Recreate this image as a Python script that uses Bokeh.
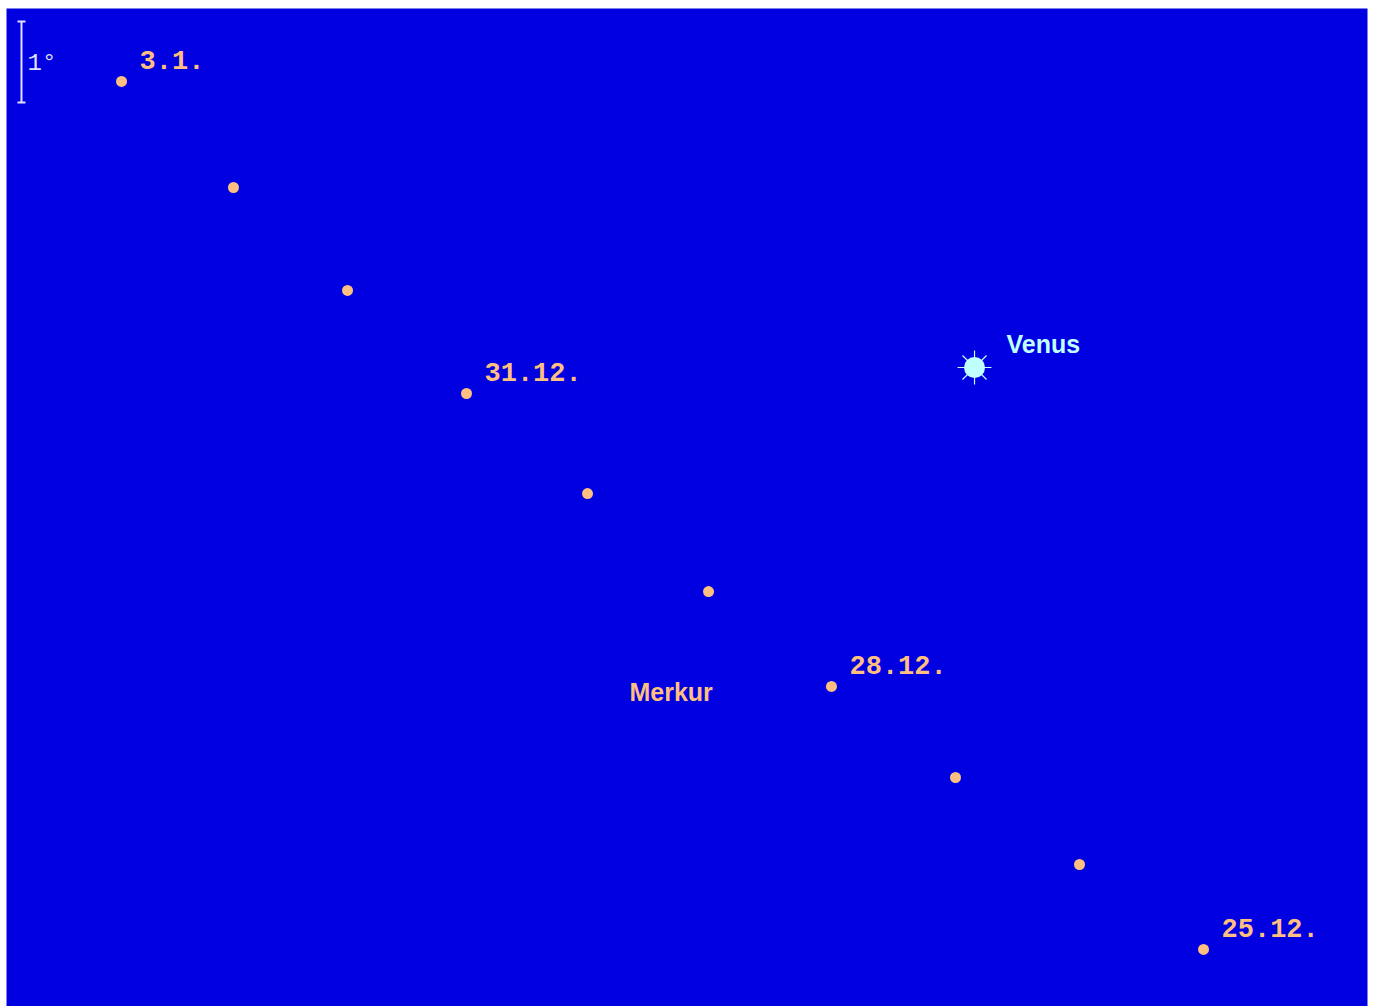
from bokeh.plotting import figure
from bokeh.models import Range1d, ColumnDataSource
from bokeh.core.properties import value
from bokeh.embed import file_html
from bokeh.resources import INLINE

# Mercury positions (degrees in the field: x to the right, y upward)
dates = ["25.12.", "26.12.", "27.12.", "28.12.", "29.12.", "30.12.", "31.12.", "1.1.", "2.1.", "3.1."]
merc_x = [14.778, 13.247, 11.716, 10.185, 8.667, 7.173, 5.679, 4.210, 2.802, 1.420]
merc_y = [0.704, 1.753, 2.827, 3.951, 5.123, 6.333, 7.568, 8.840, 10.111, 11.420]
labels = ["25.12.", "", "", "28.12.", "", "", "31.12.", "", "", "3.1."]

venus_x = [11.951]
venus_y = [7.889]

field_w = 1361 / 81.0
field_h = 998 / 81.0
scale_deg = 1.0

BG = "#0000e0"
ORANGE = "#ffbf80"
VENUS = "#c0ffff"
WHITE = "#e0e0ff"

p = figure(width=1373, height=1006, output_backend="svg", toolbar_location=None,
           x_range=Range1d(0, field_w), y_range=Range1d(0, field_h),
           min_border=0, min_border_left=6, min_border_top=8, min_border_right=6,
           min_border_bottom=0,
           background_fill_color=BG, border_fill_color="white",
           outline_line_color=None)
p.axis.visible = False
p.grid.visible = False

src = ColumnDataSource(dict(x=merc_x, y=merc_y, label=labels, date=dates))
p.scatter("x", "y", source=src, size=11, marker="circle", fill_color=ORANGE, line_color=None)
p.text("x", "y", text="label", source=src, x_offset=18, y_offset=-21,
       text_font=value("Liberation Mono"), text_font_style="bold",
       text_font_size="27px", text_color=ORANGE, text_baseline="alphabetic")

# Venus
vsrc = ColumnDataSource(dict(x=venus_x, y=venus_y, label=["Venus"]))
p.scatter("x", "y", source=vsrc, marker="asterisk", size=34, line_color=VENUS, line_width=1.2)
p.scatter("x", "y", source=vsrc, marker="circle", size=21, fill_color=VENUS, line_color=None)
p.text("x", "y", text="label", source=vsrc, x_offset=32, y_offset=-23,
       text_font=value("Liberation Sans"), text_font_style="bold", text_font_size="25px",
       text_color=VENUS, text_baseline="alphabetic")

# Merkur name
p.text(x=[7.691], y=[3.778], text=["Merkur"], y_offset=-8, text_font=value("Liberation Sans"),
       text_font_style="bold", text_font_size="25px", text_color=ORANGE,
       text_baseline="alphabetic")

# 1 degree scale bar
sx = 0.185
sy0 = field_h - (102 - 8) / 81.0
sy1 = sy0 + scale_deg
p.segment(x0=[sx], y0=[sy0], x1=[sx], y1=[sy1], line_color=WHITE, line_width=2)
p.scatter(x=[sx, sx], y=[sy0, sy1], marker="dash", size=8, line_color=WHITE, line_width=2)
p.text(x=[sx], y=[(sy0 + sy1) / 2], text=["1°"], x_offset=6, y_offset=1,
       text_font=value("Liberation Mono"), text_font_size="24px", text_color=WHITE,
       text_baseline="alphabetic")

open("out.html", "w").write(file_html(p, INLINE))
